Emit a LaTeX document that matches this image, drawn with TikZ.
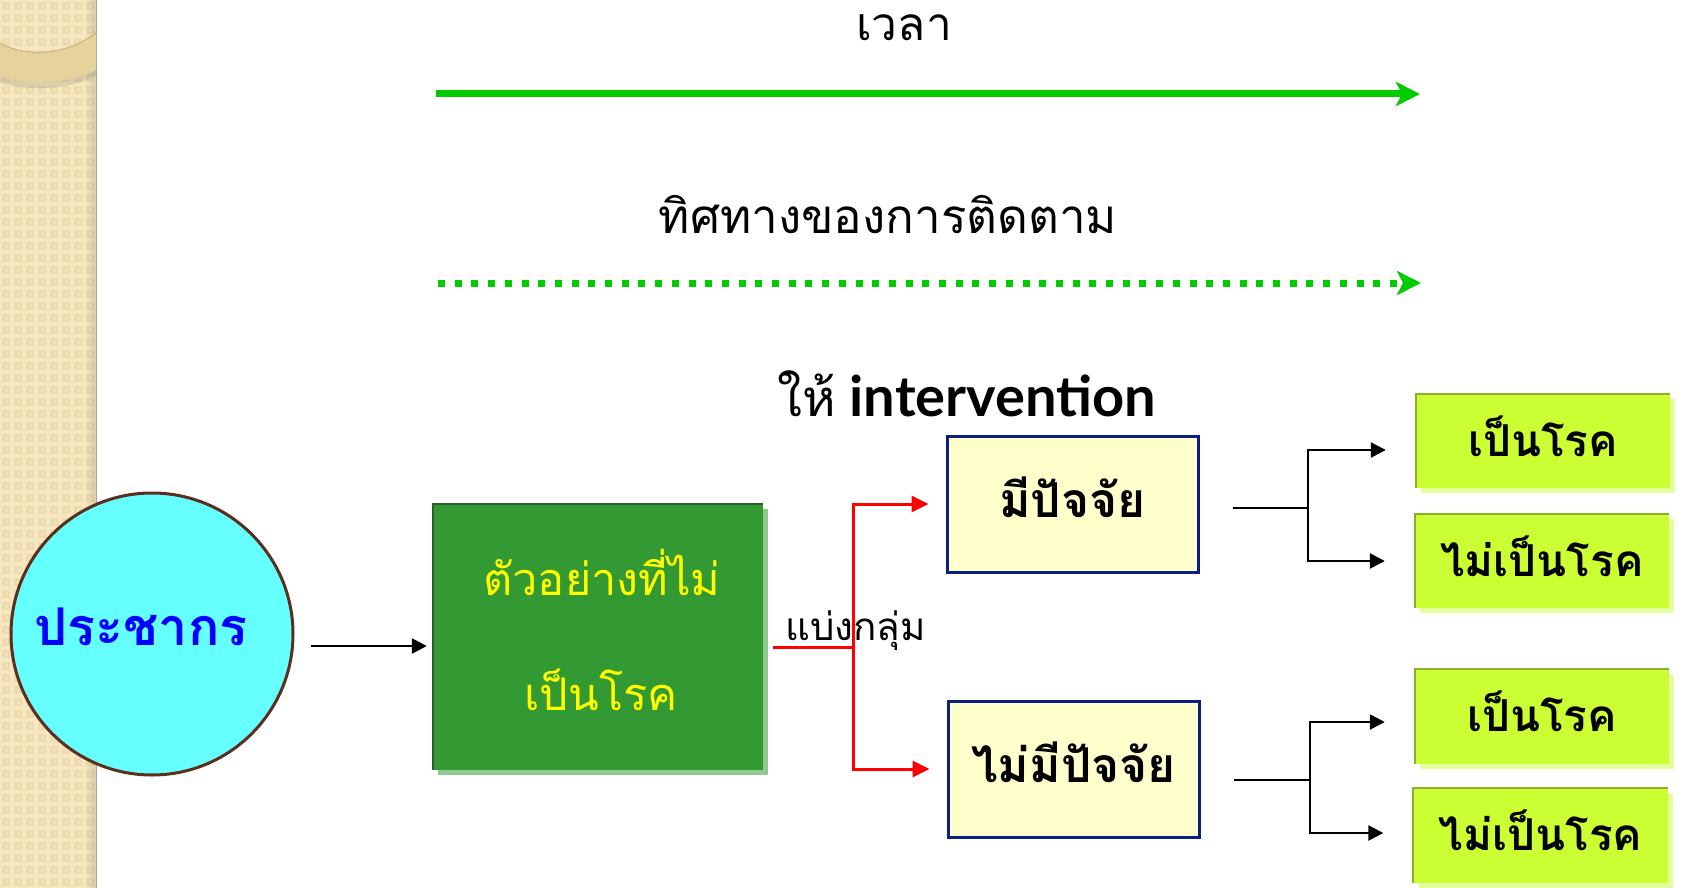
\documentclass[tikz,border=0pt]{standalone}
\usepackage{fontspec}
\usetikzlibrary{arrows.meta,calc}
\newfontfamily\thai[Script=Thai]{Loma}
\newfontfamily\latinbold{Lato}
\newcommand\fsz[1]{\fontsize{#1pt}{#1pt}\selectfont}

\definecolor{stripbase}{HTML}{F6E7C0}
\definecolor{stripcell}{HTML}{ECDBAE}
\definecolor{stripdot}{HTML}{F2E2B8}
\definecolor{bandfill}{HTML}{E6D29C}
\definecolor{bandline}{HTML}{CBB57E}
\definecolor{popfill}{HTML}{66FFFF}
\definecolor{popedge}{HTML}{5C2E1E}
\definecolor{popblue}{HTML}{0000FF}
\definecolor{sampfill}{HTML}{339933}
\definecolor{sampedge}{HTML}{2A5E2A}
\definecolor{sampshadow}{HTML}{92C892}
\definecolor{sampyellow}{HTML}{FFFF00}
\definecolor{factfill}{HTML}{FFFFCC}
\definecolor{factedge}{HTML}{0B1F80}
\definecolor{limefill}{HTML}{CCFF33}
\definecolor{limeedge}{HTML}{8DAF2A}
\definecolor{limeshadow}{HTML}{E2FF9C}
\definecolor{arrowgreen}{HTML}{00CC00}
\definecolor{splitred}{HTML}{FF0000}

\tikzset{
  popcircle/.style={circle, draw=popedge, fill=popfill, line width=3pt,
    minimum size=282pt, inner sep=0pt},
  sampbox/.style={rectangle, fill=sampfill, minimum width=330pt,
    minimum height=266pt, inner sep=0pt,
    preaction={fill=sampshadow, transform canvas={xshift=5pt,yshift=-5pt}}},
  samptext/.style={anchor=base, text=sampyellow, font=\thai\fsz{45}},
  factbox/.style={rectangle, draw=factedge, fill=factfill, line width=3pt,
    minimum width=251pt, minimum height=136pt, inner sep=0pt,
    font=\thai\bfseries\fsz{48}, text height=26pt, text depth=0pt},
  outbox/.style={rectangle, fill=limefill, minimum width=254pt,
    minimum height=94pt, inner sep=0pt,
    preaction={fill=limeshadow, transform canvas={xshift=5pt,yshift=-5pt}},
    font=\thai\bfseries\fsz{44}, text height=30pt, text depth=0pt},
  timearrow/.style={draw=arrowgreen, line width=7pt,
    -{Stealth[length=24pt,width=24pt,inset=6pt]}},
  followarrow/.style={draw=arrowgreen, line width=7pt,
    dash pattern=on 7pt off 9.7pt,
    -{Stealth[length=24pt,width=24pt,inset=6pt]}},
  redline/.style={draw=splitred, line width=3pt,
    -{Triangle[length=17pt,width=16pt]}},
  blkline/.style={draw=black, line width=2.5pt},
  blkarr/.style={draw=black, line width=2.5pt,
    -{Triangle[length=15pt,width=15pt]}},
}

\begin{document}
\begin{tikzpicture}[x=1pt,y=-1pt]
\useasboundingbox (0,0) rectangle (1683,888);
\fill[white] (0,0) rectangle (1683,888);

% textured side strip
\fill[stripbase] (0,0) rectangle (96,888);
\foreach \i in {0,...,7}{
  \foreach \j in {0,...,74}{
    \fill[stripcell] (\i*12+2,\j*12+2) rectangle ++(8,8);
    \fill[stripdot] (\i*12+4.5,\j*12+4.5) rectangle ++(3,3);
  }
}
\foreach \k in {0,...,5}{
  \fill[black, opacity=0.02*\k] (84+\k*2,0) rectangle (86+\k*2,888);
}
\draw[black!35, line width=1pt] (96,0) -- (96,888);

% curved band on the strip
\fill[black, opacity=0.10] (-2,46) .. controls (25,62) and (65,60) .. (96,37)
  -- (96,76) .. controls (65,91) and (25,91) .. (-2,82) -- cycle;
\fill[bandfill] (-2,42) .. controls (25,58) and (65,56) .. (96,33)
  -- (96,70) .. controls (65,85) and (25,85) .. (-2,76) -- cycle;
\draw[bandline, line width=1pt] (-2,42) .. controls (25,58) and (65,56) .. (96,33);

% time and follow-up arrows
\coordinate (timeS) at (436,94);
\coordinate (timeE) at (1420,94);
\draw[timearrow] (timeS) -- (timeE);
\coordinate (followS) at (438,283);
\coordinate (followE) at (1421,283);
\draw[followarrow] (followS) -- (followE);
\node[anchor=base, font=\thai\fsz{46}] (timelbl) at (904,41) {เวลา};
\node[anchor=base, font=\thai\fsz{47.5}] (followlbl) at (888,233) {ทิศทางของการติดตาม};

% population
\node[popcircle] (popc) at (152,634) {};
\node[anchor=base, text=popblue, font=\thai\bfseries\fsz{52}] (poptext) at (141,645) {ประชากร};

% sample without disease
\node[sampbox] (sample) at (598,637) {};
\draw[sampedge, line width=2pt] (sample.south west) |- (sample.north east);
\node[samptext] (samp1) at (602,595) {ตัวอย่างที่ไม่};
\node[samptext] (samp2) at (601,710) {เป็นโรค};

\draw[blkarr, shorten <=16pt, shorten >=6pt] ([yshift=-12pt]popc.east) -- ([yshift=-9pt]sample.west);

% exposure groups
\node[anchor=base west, inner sep=0pt] (intv) at (777,416)
  {{\thai\fsz{51}ให้}\hspace{14pt}{\latinbold\bfseries\fsz{56}intervention}};
\node[factbox] (m1) at (1072.5,504) {มีปัจจัย};
\node[factbox] (m2) at (1073.5,769) {ไม่มีปัจจัย};

\coordinate (split) at (853,647);
\draw[redline, shorten <=10pt, shorten >=17pt] (sample.east |- split) -- (split) |- (m1.west);
\draw[redline, shorten >=17pt] (split) |- (m2.west);
\node[anchor=base west, inner sep=0pt, font=\thai\fsz{38.5}] (grp) at (785,640) {แบ่งกลุ่ม};

% outcomes
\node[outbox] (rA) at (1543,441) {เป็นโรค};
\node[outbox] (rB) at (1542,561) {ไม่เป็นโรค};
\node[outbox] (rC) at (1542,716.5) {เป็นโรค};
\node[outbox] (rD) at (1540.5,835.5) {ไม่เป็นโรค};
\foreach \n in {rA,rB,rC,rD}{
  \draw[limeedge, line width=2pt] (\n.south west) |- (\n.north east);
}

\coordinate (j1) at (1308,508);
\draw[blkline, shorten <=33pt] (m1.east |- j1) -- (j1);
\draw[blkarr, shorten >=30pt] (j1) |- ([yshift=-9pt]rA.west);
\draw[blkarr, shorten >=30pt] (j1) |- (rB.west);

\coordinate (j2) at (1310,780);
\draw[blkline, shorten <=33pt] (m2.east |- j2) -- (j2);
\draw[blkarr, shorten >=30pt] (j2) |- ([yshift=-5.5pt]rC.west);
\draw[blkarr, shorten >=30pt] (j2) |- ([yshift=2.5pt]rD.west);
\end{tikzpicture}
\end{document}
